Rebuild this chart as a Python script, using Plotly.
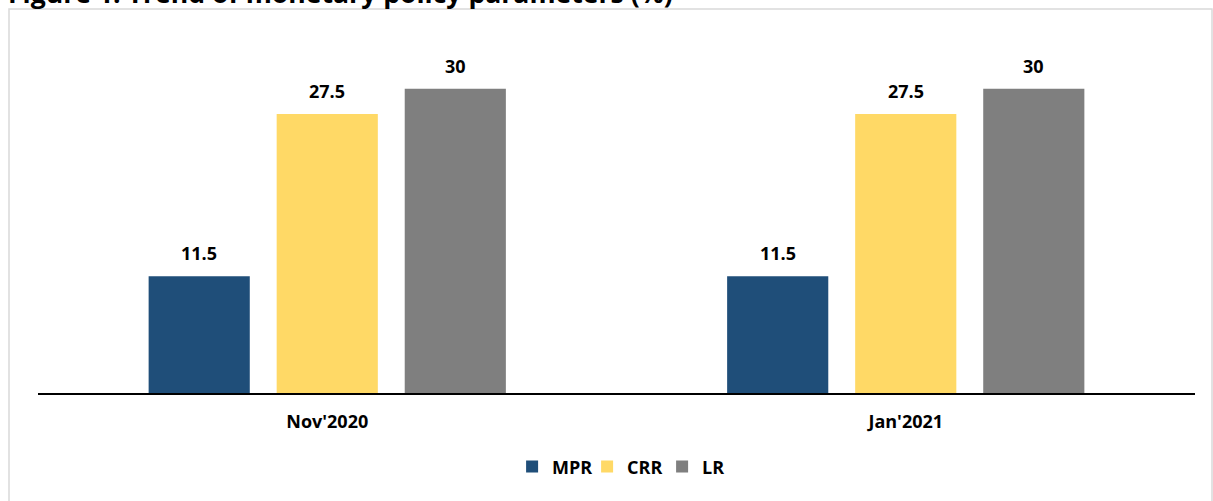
import plotly.graph_objects as go

categories = ["Nov'2020", "Jan'2021"]
series_names = ["MPR", "CRR", "LR"]
mpr = [11.5, 11.5]
crr = [27.5, 27.5]
lr = [30, 30]
colors = ["#1f4e79", "#ffd966", "#7f7f7f"]
title = "Figure 1: Trend of monetary policy parameters (%)"

values = [mpr, crr, lr]
font_family = "Open Sans"

fig = go.Figure()
for name, vals, col in zip(series_names, values, colors):
    fig.add_trace(go.Bar(
        x=categories, y=vals, name=f"<b>{name}</b>",
        marker=dict(color=col, line=dict(width=0)),
    ))

# data labels above bars
offsets = [-128, 0, 128]
annotations = []
for si, vals in enumerate(values):
    for ci, v in enumerate(vals):
        annotations.append(dict(
            x=ci, y=v, xref="x", yref="y", text=f"<b>{v:g}</b>",
            showarrow=False, xshift=offsets[si], yanchor="bottom", yshift=9,
            font=dict(family=font_family, size=18, color="#000000"),
        ))

annotations.append(dict(
    x=-0.0277, y=1.085, xref="paper", yref="paper", xanchor="left", yanchor="bottom",
    text=f"<b>{title}</b>", showarrow=False, yshift=-5,
    font=dict(family=font_family, size=26.6, color="#000000"),
))

fig.update_layout(
    width=1213, height=501,
    margin=dict(l=38, r=18, t=38, b=108),
    paper_bgcolor="white", plot_bgcolor="white",
    barmode="group", bargap=0.336, bargroupgap=0.21,
    showlegend=True,
    legend=dict(orientation="h", x=0.507, xanchor="center", y=-0.208, yanchor="middle",
                font=dict(family=font_family, size=18, color="#000000"),
                itemwidth=30, entrywidth=30, traceorder="normal"),
    font=dict(family=font_family, color="#000000"),
    annotations=annotations,
    shapes=[dict(type="rect", xref="paper", yref="paper", x0=-0.02507, x1=1.01469,
                 y0=-0.4, y1=1.0817, line=dict(color="#d9d9d9", width=1.5), layer="below")],
)
fig.update_xaxes(showline=True, linecolor="#000000", linewidth=1.5, showgrid=False,
                 tickfont=dict(family=font_family, size=18, color="#000000"),
                 ticks="", ticklabelstandoff=12,
                 tickvals=categories, ticktext=[f"<b>{c}</b>" for c in categories])
fig.update_yaxes(range=[0, 35], visible=False, showgrid=False)

fig.write_html("out.html")
